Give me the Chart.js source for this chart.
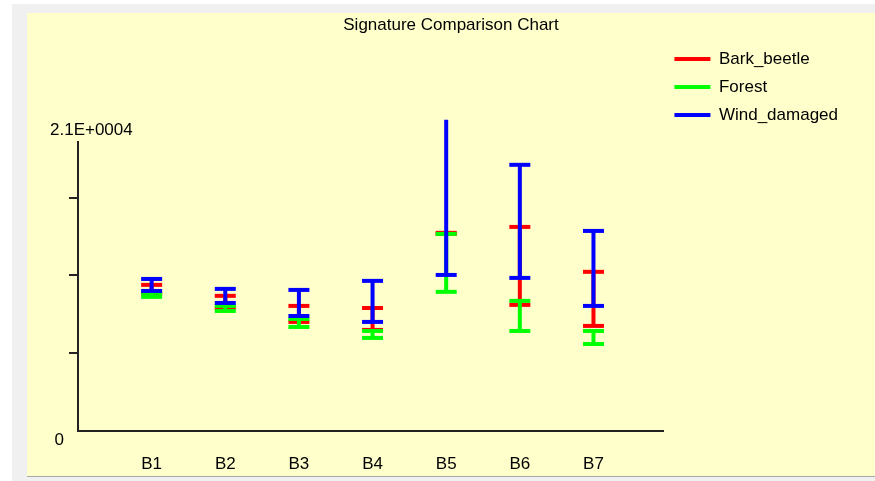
<!DOCTYPE html>
<html>
<head>
<meta charset="utf-8">
<script src="https://cdn.jsdelivr.net/npm/chart.js@4/dist/chart.umd.min.js"></script>
<style>
  html, body { margin: 0; padding: 0; background: #f0f0f0; }
  canvas { display: block; }
</style>
</head>
<body>
<canvas id="c" width="875" height="481"></canvas>
<script>
// ---- data ----
const categories = ['B1', 'B2', 'B3', 'B4', 'B5', 'B6', 'B7'];
const seriesNames = ['Bark_beetle', 'Forest', 'Wind_damaged'];
const barkMin   = [9250, 8300, 7360, 6820, 13300, 8510, 7090];
const barkMax   = [9860, 9120, 8440, 8300, 13370, 13770, 10740];
const forestMin = [9050, 8100, 7020, 6280, 9390, 6750, 5870];
const forestMax = [9320, 8440, 7560, 6750, 13300, 8780, 6750];
const windMin   = [9450, 8640, 7760, 7360, 10530, 10330, 8440];
const windMax   = [10260, 9590, 9520, 10130, 21000, 17960, 13500];
const yTickValues = [5250, 10500, 15750];
const yLabelValues = [0, 21000];
const yLabelTexts = ['0', '2.1E+0004'];

// build min-max segments (x = category position 1..7), separated by gaps
function segments(mins, maxs) {
  const out = [];
  categories.forEach((c, i) => {
    out.push({x: i + 1, y: mins[i]});
    out.push({x: i + 1, y: maxs[i]});
    out.push({x: i + 1.5, y: null});
  });
  return out;
}

function ds(label, color, mins, maxs, order) {
  return {
    label, order,
    data: segments(mins, maxs),
    borderColor: color,
    backgroundColor: color,
    borderWidth: 4,
    pointStyle: 'line',
    pointRadius: 10.5,
    pointBorderWidth: 4,
    pointBorderColor: color,
    pointBackgroundColor: color,
    spanGaps: false,
    tension: 0,
    clip: false
  };
}

const bgPlugin = {
  id: 'bg',
  beforeDraw(chart) {
    const ctx = chart.ctx;
    ctx.save();
    ctx.fillStyle = '#f0f0f0';
    ctx.fillRect(0, 0, 875, 481);
    ctx.fillStyle = '#ffffff';
    ctx.fillRect(0, 0, 875, 4);
    ctx.fillRect(0, 0, 12, 481);
    ctx.fillStyle = '#ffffcc';
    ctx.fillRect(27, 13, 848, 463);
    ctx.fillStyle = '#a8a8a8';
    ctx.fillRect(27, 476, 848, 1);
    ctx.restore();
  }
};

const yLabelPlugin = {
  id: 'ylabels',
  afterDraw(chart) {
    const ctx = chart.ctx;
    const y = chart.scales.y;
    const left = chart.chartArea.left;
    ctx.save();
    ctx.fillStyle = '#000';
    ctx.font = '17px "Liberation Sans", Arial, sans-serif';
    ctx.textBaseline = 'middle';
    ctx.textAlign = 'right';
    ctx.fillText(yLabelTexts[0], left - 14, y.getPixelForValue(yLabelValues[0]) + 9);
    ctx.textAlign = 'left';
    ctx.fillText(yLabelTexts[1], left - 28, y.getPixelForValue(yLabelValues[1]) + 11);
    ctx.restore();
  }
};

Chart.defaults.font.family = '"Liberation Sans", Arial, sans-serif';
Chart.defaults.font.size = 17;
Chart.defaults.color = '#000';

new Chart(document.getElementById('c'), {
  type: 'line',
  data: {
    datasets: [
      ds(seriesNames[0], '#ff0000', barkMin, barkMax, 2),
      ds(seriesNames[1], '#00ff00', forestMin, forestMax, 1),
      ds(seriesNames[2], '#0000ff', windMin, windMax, 0)
    ]
  },
  plugins: [bgPlugin, yLabelPlugin],
  options: {
    responsive: false,
    animation: false,
    events: [],
    layout: { padding: { left: 54, top: 13, right: 27, bottom: 0 } },
    plugins: {
      tooltip: { enabled: false },
      title: {
        display: true,
        text: 'Signature Comparison Chart',
        font: { size: 17, weight: 'normal' },
        color: '#000',
        padding: { top: 2, bottom: 106.6 }
      },
      legend: {
        display: true,
        position: 'right',
        align: 'start',
        title: { display: true, text: '', font: { size: 1, lineHeight: 1 }, padding: { top: 25.5, bottom: 0 } },
        labels: {
          usePointStyle: true,
          pointStyleWidth: 36,
          padding: 11,
          color: '#000',
          font: { size: 17 },
          sort: (a, b) => a.datasetIndex - b.datasetIndex
        }
      }
    },
    scales: {
      x: {
        type: 'linear',
        position: 'bottom',
        min: 0,
        max: 7.95,
        afterFit(s) { s.height = 50; },
        grid: { display: false, drawTicks: false },
        border: { display: true, color: '#222', width: 2 },
        ticks: {
          stepSize: 1,
          padding: 23,
          autoSkip: false,
          maxRotation: 0,
          font: { size: 17 },
          color: '#000',
          callback: (v) => (Number.isInteger(v) && v >= 1 && v <= categories.length) ? categories[v - 1] : ''
        }
      },
      y: {
        type: 'linear',
        position: 'left',
        min: 0,
        max: 19500,
        afterFit(s) { s.width = 24; },
        afterBuildTicks(s) { s.ticks = yTickValues.map(v => ({ value: v })); },
        grid: {
          drawOnChartArea: false,
          drawTicks: true,
          tickLength: 9,
          lineWidth: 2,
          color: '#222'
        },
        border: { display: true, color: '#222', width: 2 },
        ticks: { display: false }
      }
    }
  }
});
</script>
</body>
</html>
